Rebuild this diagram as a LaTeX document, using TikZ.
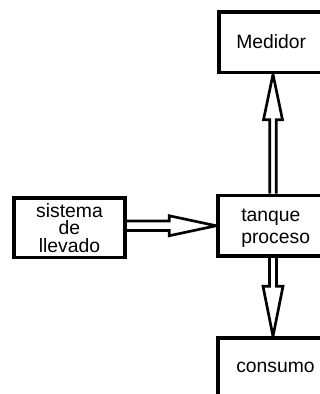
\documentclass[tikz,border=0pt]{standalone}
\usepackage{fontspec}
\setmainfont{Liberation Sans}
\usetikzlibrary{calc}
\pgfdeclarelayer{bg}
\pgfsetlayers{bg,main}
\begin{document}
\begin{tikzpicture}[x=0.75pt,y=-0.75pt,
  box/.style={draw,fill=white,line width=2.7pt,inner sep=0pt,rectangle},
  arr/.style={draw,line width=2pt,fill=white,line join=miter},
  lbl/.style={font=\fontsize{14.5}{13}\selectfont,inner sep=0pt}]
\useasboundingbox (0,0) rectangle (320,394);
\clip (0,0) rectangle (320,394);
% boxes
\node[box,minimum width=116*0.75pt,minimum height=60.8*0.75pt] (med) at (277,42.1) {};
\node[box,minimum width=117*0.75pt,minimum height=60.5*0.75pt] (tank) at (276.5,225.75) {};
\node[box,minimum width=111*0.75pt,minimum height=59.5*0.75pt] (sist) at (69.5,227.75) {};
\node[box,minimum width=117*0.75pt,minimum height=62*0.75pt] (cons) at (276.5,369) {};
\coordinate (ax) at (273,0);
% texts
\node[lbl,anchor=base west] (tmed) at (236,48) {Medidor};
\node[lbl,anchor=base west] (tcons) at (236,372) {consumo};
\node[lbl,align=left,anchor=base west,font=\fontsize{14.5}{16.2}\selectfont] (ttank) at (241,243.3) {tanque\\proceso};
\node[lbl,align=center,anchor=base] (tsist) at (69.5,252) {sistema\\de\\llevado};
% arrows
\begin{pgfonlayer}{bg}
\draw[arr] ($(sist.east|-tank.west)+(0,-4.75)$) -- ($(tank.west)+(-47,-4.75)$) -- ++(0,-5.25)
  -- (tank.west) -- ($(tank.west)+(-47,10)$) -- ++(0,-5.25) -- ($(sist.east|-tank.west)+(0,4.75)$);
\draw[arr] ($(ax|-tank.north)+(-3.25,0)$) -- ($(ax|-med.south)+(-3.25,45.5)$) -- ++(-6.25,0)
  -- (ax|-med.south) -- ($(ax|-med.south)+(9.5,45.5)$) -- ++(-6.25,0) -- ($(ax|-tank.north)+(3.25,0)$);
\draw[arr] ($(ax|-tank.south)+(-3.5,0)$) -- ($(ax|-cons.north)+(-3.5,-50)$) -- ++(-6.5,0)
  -- (ax|-cons.north) -- ($(ax|-cons.north)+(10,-50)$) -- ++(-6.5,0) -- ($(ax|-tank.south)+(3.5,0)$);
\end{pgfonlayer}
\end{tikzpicture}
\end{document}
